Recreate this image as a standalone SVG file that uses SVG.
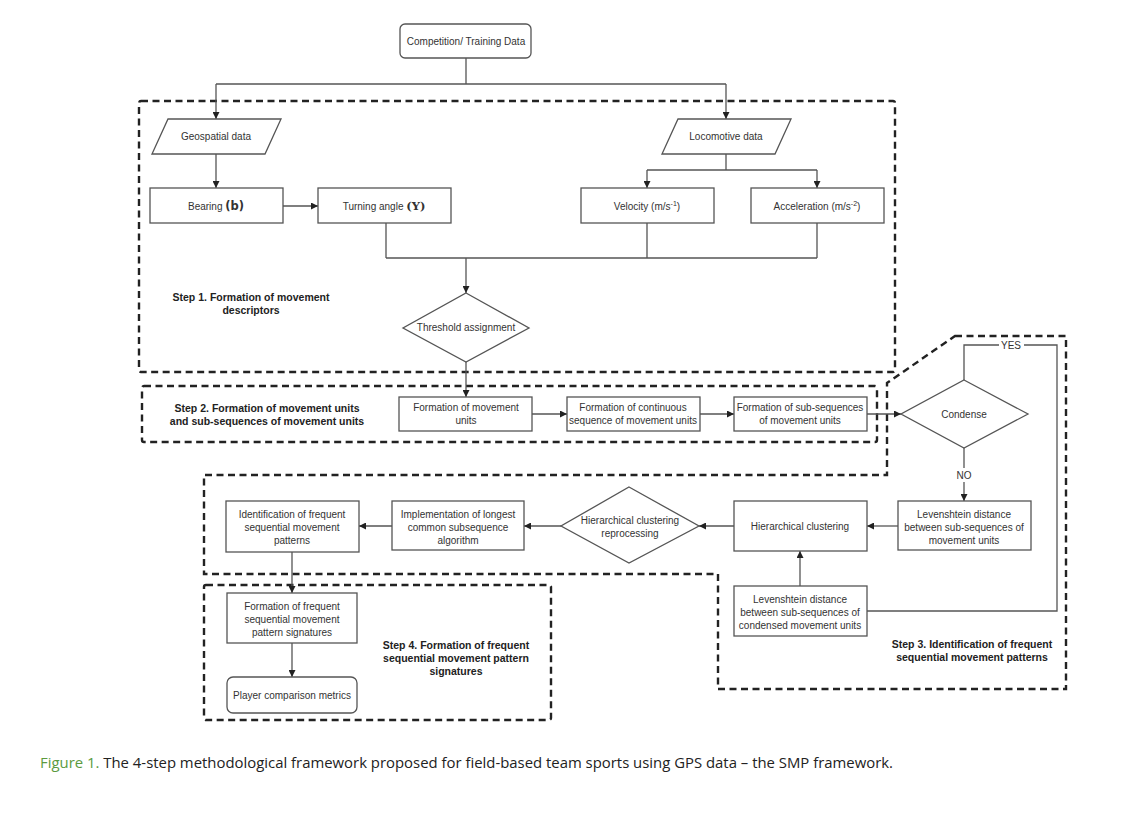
<svg xmlns="http://www.w3.org/2000/svg" width="1125" height="817" viewBox="0 0 1125 817">
<defs>
<style>
.n{fill:#fff;stroke:#555;stroke-width:1.3}
.t{font-family:"Liberation Sans",Arial,sans-serif;font-size:10px;fill:#333;text-anchor:middle}
.s{font-family:"Liberation Sans",Arial,sans-serif;font-size:10.5px;font-weight:bold;fill:#222;text-anchor:middle}
.d{fill:none;stroke:#222;stroke-width:2.4;stroke-dasharray:7 4.5}
.c{fill:none;stroke:#555;stroke-width:1.3}
.a{marker-end:url(#ah)}
</style>
<marker id="ah" viewBox="0 0 10 10" refX="10" refY="5" markerWidth="7" markerHeight="7" orient="auto" markerUnits="userSpaceOnUse">
<path d="M0,0 L10,5 L0,10 Z" fill="#222"/>
</marker>
</defs>
<rect width="1125" height="817" fill="#fff"/>

<g id="step-boxes">
<rect id="step1" class="d" x="139" y="101" width="756" height="271" rx="2"/>
<rect id="step2" class="d" x="142" y="386" width="735" height="56" rx="2"/>
<path id="step3" class="d" d="M955,336 H1066 V689 H718 V574 H204 V475 H887 V383 Z"/>
<rect id="step4" class="d" x="204" y="585" width="347" height="135" rx="2"/>
</g>

<g id="step-labels">
<text class="s" x="251" y="301">Step 1. Formation of movement</text>
<text class="s" x="251" y="314">descriptors</text>
<text class="s" x="267" y="412">Step 2. Formation of movement units</text>
<text class="s" x="267" y="425">and sub-sequences of movement units</text>
<text class="s" x="972" y="648">Step 3. Identification of frequent</text>
<text class="s" x="972" y="661">sequential movement patterns</text>
<text class="s" x="456" y="649">Step 4. Formation of frequent</text>
<text class="s" x="456" y="662">sequential movement pattern</text>
<text class="s" x="456" y="675">signatures</text>
</g>

<g id="connectors">
<path class="c" d="M466,58 V84 M216,84 H726"/>
<path class="c a" d="M216,84 V119"/>
<path class="c a" d="M726,84 V119"/>
<path class="c a" d="M216,154 V188"/>
<path class="c a" d="M283,206 H318"/>
<path class="c" d="M726,154 V170 M647,170 H817"/>
<path class="c a" d="M647,170 V188"/>
<path class="c a" d="M817,170 V188"/>
<path class="c" d="M386,223 V258 M647,223 V258 M817,223 V258 M386,258 H817"/>
<path class="c a" d="M466,258 V293"/>
<path class="c a" d="M466,362 V397"/>
<path class="c a" d="M532,414 H567"/>
<path class="c a" d="M700,414 H734"/>
<path class="c a" d="M867,414 H901"/>
<path class="c" d="M964,380 V345 H999 M1024,345 H1057 V611 H867"/>
<path class="c" d="M964,448 V468"/>
<path class="c a" d="M964,482 V501"/>
<path class="c a" d="M898,526 H867"/>
<path class="c a" d="M734,526 H699"/>
<path class="c a" d="M561,526 H524"/>
<path class="c a" d="M392,526 H359"/>
<path class="c a" d="M292,552 V593"/>
<path class="c a" d="M292,643 V677"/>
<path class="c a" d="M800,586 V551"/>
<text class="t" x="1011" y="349">YES</text>
<text class="t" x="964" y="479">NO</text>
</g>

<g id="competition">
<rect class="n" x="400" y="24" width="131" height="34" rx="5"/>
<text class="t" x="466" y="45">Competition/ Training Data</text>
</g>
<g id="geospatial">
<path class="n" d="M168,119 H281 L265,154 H152 Z"/>
<text class="t" x="216" y="140">Geospatial data</text>
</g>
<g id="locomotive">
<path class="n" d="M678,119 H791 L775,154 H662 Z"/>
<text class="t" x="726" y="140">Locomotive data</text>
</g>
<g id="bearing">
<rect class="n" x="150" y="188" width="133" height="35"/>
<text class="t" x="216" y="210">Bearing <tspan font-family="DejaVu Sans, sans-serif" font-weight="bold" font-size="11.5">(b)</tspan></text>
</g>
<g id="turning">
<rect class="n" x="318" y="188" width="133" height="35"/>
<text class="t" x="384" y="210">Turning angle <tspan font-family="DejaVu Serif, serif" font-weight="bold" font-size="11.5">(Υ)</tspan></text>
</g>
<g id="velocity">
<rect class="n" x="581" y="188" width="133" height="35"/>
<text class="t" x="647" y="210">Velocity (m/s<tspan font-size="7" dy="-4">-1</tspan><tspan dy="4">)</tspan></text>
</g>
<g id="acceleration">
<rect class="n" x="751" y="188" width="133" height="35"/>
<text class="t" x="817" y="210">Acceleration (m/s<tspan font-size="7" dy="-4">-2</tspan><tspan dy="4">)</tspan></text>
</g>
<g id="threshold">
<path class="n" d="M466,293 L529,328 L466,362 L403,328 Z"/>
<text class="t" x="466" y="331">Threshold assignment</text>
</g>
<g id="units">
<rect class="n" x="399" y="397" width="133" height="34"/>
<text class="t" x="466" y="411">Formation of movement</text>
<text class="t" x="466" y="424">units</text>
</g>
<g id="continuous">
<rect class="n" x="567" y="397" width="133" height="34"/>
<text class="t" x="633" y="411">Formation of continuous</text>
<text class="t" x="633" y="424">sequence of movement units</text>
</g>
<g id="subsequences">
<rect class="n" x="734" y="397" width="133" height="34"/>
<text class="t" x="800" y="411">Formation of sub-sequences</text>
<text class="t" x="800" y="424">of movement units</text>
</g>
<g id="condense">
<path class="n" d="M964,380 L1028,414 L964,448 L901,414 Z"/>
<text class="t" x="964" y="418">Condense</text>
</g>
<g id="levenshtein">
<rect class="n" x="898" y="501" width="133" height="49"/>
<text class="t" x="964" y="518">Levenshtein distance</text>
<text class="t" x="964" y="531">between sub-sequences of</text>
<text class="t" x="964" y="544">movement units</text>
</g>
<g id="hierarchical">
<rect class="n" x="734" y="501" width="133" height="50"/>
<text class="t" x="800" y="530">Hierarchical clustering</text>
</g>
<g id="levenshtein-condensed">
<rect class="n" x="734" y="586" width="133" height="50"/>
<text class="t" x="800" y="603">Levenshtein distance</text>
<text class="t" x="800" y="616">between sub-sequences of</text>
<text class="t" x="800" y="629">condensed movement units</text>
</g>
<g id="reprocessing">
<path class="n" d="M629,487 L699,526 L629,563 L561,526 Z"/>
<text class="t" x="630" y="524">Hierarchical clustering</text>
<text class="t" x="630" y="537">reprocessing</text>
</g>
<g id="implementation">
<rect class="n" x="392" y="501" width="132" height="49"/>
<text class="t" x="458" y="518">Implementation of longest</text>
<text class="t" x="458" y="531">common subsequence</text>
<text class="t" x="458" y="544">algorithm</text>
</g>
<g id="identification">
<rect class="n" x="226" y="501" width="133" height="51"/>
<text class="t" x="292" y="518">Identification of frequent</text>
<text class="t" x="292" y="531">sequential movement</text>
<text class="t" x="292" y="544">patterns</text>
</g>
<g id="signatures">
<rect class="n" x="227" y="593" width="130" height="50"/>
<text class="t" x="292" y="610">Formation of frequent</text>
<text class="t" x="292" y="623">sequential movement</text>
<text class="t" x="292" y="636">pattern signatures</text>
</g>
<g id="player">
<rect class="n" x="227" y="677" width="130" height="36" rx="6"/>
<text class="t" x="292" y="699">Player comparison metrics</text>
</g>

<text x="40" y="768" font-family="'Open Sans','Liberation Sans',sans-serif" font-size="14.5" fill="#222" textLength="853" lengthAdjust="spacingAndGlyphs"><tspan fill="#5b9a3e">Figure 1.</tspan> The 4-step methodological framework proposed for field-based team sports using GPS data – the SMP framework.</text>
</svg>
